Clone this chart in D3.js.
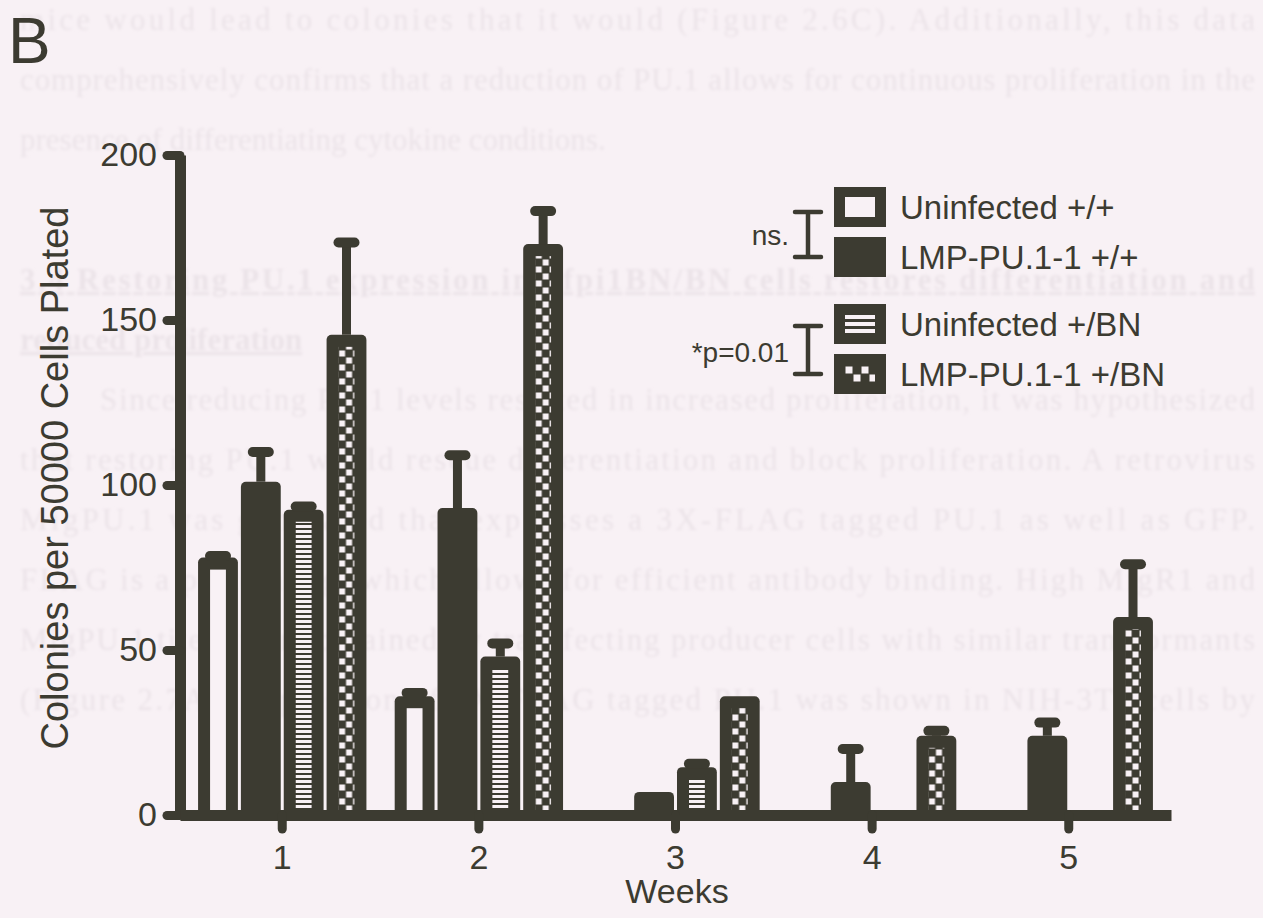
<!DOCTYPE html>
<html>
<head>
<meta charset="utf-8">
<script src="https://cdn.jsdelivr.net/npm/d3@7"></script>
<style>
    body { margin: 0; background: #f8f1f5; }
    svg { display: block; }
</style>
</head>
<body>
<svg></svg>
<script>
// values (colonies per 50000 cells plated)
const weeks = ["1", "2", "3", "4", "5"];
const seriesNames = ["Uninfected +/+", "LMP-PU.1-1 +/+", "Uninfected +/BN", "LMP-PU.1-1 +/BN"];
const seriesFills = ["open", "solid", "stripes", "checks"];
const uninfectedWT = [78, 36, 0, 0, 0];
const uninfectedWTErr = [0.5, 1, 0, 0, 0];
const lmpWT = [101, 93, 7, 10, 24];
const lmpWTErr = [9, 16, 0, 10, 4];
const uninfectedBN = [92.5, 48, 14.5, 0, 0];
const uninfectedBNErr = [1, 4, 1, 0, 0];
const lmpBN = [145.5, 173, 36, 24, 60];
const lmpBNErr = [28, 10, 0, 1.5, 16];
const yTicks = [0, 50, 100, 150, 200];

// page text behind the figure (scanned thesis page)
const pageLines = [
    "mice would lead to colonies that it would (Figure 2.6C). Additionally, this data",
    "comprehensively confirms that a reduction of PU.1 allows for continuous proliferation in the",
    "presence of differentiating cytokine conditions.",
    "3.4 Restoring PU.1 expression in Sfpi1BN/BN cells restores differentiation and",
    "reduced proliferation",
    "Since reducing PU.1 levels resulted in increased proliferation, it was hypothesized",
    "that restoring PU.1 would rescue differentiation and block proliferation. A retrovirus",
    "MigPU.1 was generated that expresses a 3X-FLAG tagged PU.1 as well as GFP.",
    "FLAG is a protein tag, which allows for efficient antibody binding. High MigR1 and",
    "MigPU.1 titers were obtained by transfecting producer cells with similar transformants",
    "(Figure 2.7A). Expression of 3X-FLAG tagged PU.1 was shown in NIH-3T3 cells by"
];

const width = 1263;
const height = 918;
const ink = "#3c3b31";
const paper = "#f8f1f5";
const font = "'Liberation Sans', Arial, sans-serif";

let svg = d3.select("svg")
    .attr("width", width)
    .attr("height", height);

let defs = svg.append("defs");
defs.append("filter").attr("id", "soft")
    .append("feGaussianBlur").attr("stdDeviation", 1.6);

let stripes = defs.append("pattern").attr("id", "stripes")
    .attr("patternUnits", "userSpaceOnUse").attr("width", 6).attr("height", 5);
stripes.append("rect").attr("width", 6).attr("height", 5).attr("fill", ink);
stripes.append("rect").attr("width", 6).attr("height", 3).attr("fill", paper);

function checker(id, s) {
    let p = defs.append("pattern").attr("id", id)
        .attr("patternUnits", "userSpaceOnUse").attr("width", 2 * s).attr("height", 2 * s);
    p.append("rect").attr("width", 2 * s).attr("height", 2 * s).attr("fill", ink);
    p.append("rect").attr("x", 0.5).attr("y", 0.5).attr("width", s - 1).attr("height", s - 1).attr("fill", paper);
    p.append("rect").attr("x", s + 0.5).attr("y", s + 0.5).attr("width", s - 1).attr("height", s - 1).attr("fill", paper);
}
checker("checks", 7);
checker("checksLegend", 8);

// faint page text, barely visible through the scan
let page = svg.append("g")
    .attr("filter", "url(#soft)")
    .attr("fill", "#ebe3e8")
    .style("font-family", "'Liberation Serif', 'Times New Roman', serif")
    .style("font-size", "31px");

pageLines.forEach((line, i) => {
    let t = page.append("text")
        .attr("x", i === 5 ? 100 : 20)
        .attr("y", 30 + i * 60 + (i >= 3 ? 80 : 0))
        .text(line);
    if (i !== 2 && i !== 4) {
        t.attr("textLength", i === 5 ? 1155 : 1235).attr("lengthAdjust", "spacing");
    }
    if (i === 3 || i === 4) {
        t.style("font-weight", "bold").style("text-decoration", "underline");
    }
});

// scales
let x0 = d3.scaleBand()
    .domain(weeks)
    .range([180, 1171])
    .paddingInner(0)
    .paddingOuter(0.02);

let x1 = d3.scaleBand()
    .domain(seriesNames)
    .range([0, x0.bandwidth()])
    .paddingInner(0.07)
    .paddingOuter(0.33);

let y = d3.scaleLinear()
    .domain([0, 200])
    .range([815, 155]);

const values = [uninfectedWT, lmpWT, uninfectedBN, lmpBN];
const errors = [uninfectedWTErr, lmpWTErr, uninfectedBNErr, lmpBNErr];

let rows = [];
weeks.forEach((w, i) => {
    seriesNames.forEach((s, j) => {
        rows.push({week: w, series: s, fill: seriesFills[j], value: values[j][i], err: errors[j][i]});
    });
});

let bw = x1.bandwidth();
let border = 12;

let bars = svg.append("g").selectAll("g")
    .data(rows.filter(d => d.value > 0))
    .enter()
    .append("g")
    .attr("transform", d => `translate(${x0(d.week) + x1(d.series)},0)`);

bars.append("rect")
    .attr("y", d => y(d.value))
    .attr("width", bw)
    .attr("height", d => y(0) - y(d.value) + 6)
    .attr("rx", 5)
    .attr("fill", ink);

bars.filter(d => d.fill !== "solid" && y(0) - y(d.value) > border)
    .append("g")
    .attr("transform", `translate(${border},0)`)
    .append("rect")
    .attr("y", d => y(d.value) + border)
    .attr("width", bw - 2 * border)
    .attr("height", d => y(0) - y(d.value) - border)
    .attr("fill", d => d.fill === "open" ? paper : `url(#${d.fill})`);

// error bars (upper only)
let errBars = bars.filter(d => d.err > 0);
errBars.append("line")
    .attr("x1", bw / 2).attr("x2", bw / 2)
    .attr("y1", d => y(d.value))
    .attr("y2", d => y(d.value + d.err))
    .attr("stroke", ink)
    .attr("stroke-width", 9);
errBars.append("rect")
    .attr("x", bw / 2 - 13)
    .attr("y", d => y(d.value + d.err) - 5)
    .attr("width", 26)
    .attr("height", 10)
    .attr("rx", 5)
    .attr("fill", ink);

// axes
let axisY = d3.axisLeft(y).tickValues(yTicks).tickSize(13).tickSizeOuter(0).tickPadding(10);
let gy = svg.append("g")
    .attr("transform", "translate(180,0)")
    .call(axisY);

let axisX = d3.axisBottom(x0).tickSize(14).tickSizeOuter(0).tickPadding(16);
let gx = svg.append("g")
    .attr("transform", `translate(0,${y(0)})`)
    .call(axisX);

[gy, gx].forEach(g => {
    g.select(".domain").attr("stroke", ink).attr("stroke-width", 11);
    g.selectAll(".tick line").attr("stroke", ink).attr("stroke-width", 9).attr("stroke-linecap", "round");
    g.selectAll(".tick text")
        .attr("fill", ink)
        .style("font-family", font)
        .style("font-size", "34px");
});

// titles
svg.append("text")
    .attr("x", 8).attr("y", 63)
    .attr("fill", ink)
    .style("font-family", font)
    .style("font-size", "64px")
    .text("B");

svg.append("text")
    .attr("transform", "translate(68,478) rotate(-90)")
    .attr("text-anchor", "middle")
    .attr("fill", ink)
    .style("font-family", font)
    .style("font-size", "38px")
    .text("Colonies per 50000 Cells Plated");

svg.append("text")
    .attr("x", 677).attr("y", 903)
    .attr("text-anchor", "middle")
    .attr("fill", ink)
    .style("font-family", font)
    .style("font-size", "34px")
    .text("Weeks");

// legend
let legend = svg.append("g").selectAll("g")
    .data(seriesNames)
    .enter()
    .append("g")
    .attr("transform", (d, i) => `translate(834,${187 + i * 50 + (i >= 2 ? 17 : 0)})`);

legend.append("rect")
    .attr("width", 52).attr("height", 40)
    .attr("fill", ink);

legend.filter((d, i) => seriesFills[i] === "open")
    .append("rect")
    .attr("x", 11).attr("y", 10).attr("width", 30).attr("height", 20)
    .attr("fill", paper);

legend.filter((d, i) => seriesFills[i] === "stripes")
    .selectAll("rect.stripe")
    .data([11, 18, 25])
    .enter()
    .append("rect")
    .attr("class", "stripe")
    .attr("x", 11).attr("y", d => d).attr("width", 30).attr("height", 4)
    .attr("fill", paper);

legend.filter((d, i) => seriesFills[i] === "checks")
    .append("g")
    .attr("transform", "translate(11,12)")
    .append("rect")
    .attr("width", 30).attr("height", 16)
    .attr("fill", "url(#checksLegend)");

legend.append("text")
    .attr("x", 66).attr("y", 32)
    .attr("fill", ink)
    .style("font-family", font)
    .style("font-size", "33px")
    .text(d => d);

// significance brackets
let brackets = [
    {label: "ns.", top: 212, bottom: 257, textY: 245},
    {label: "*p=0.01", top: 326, bottom: 374, textY: 362}
];

let br = svg.append("g").selectAll("g")
    .data(brackets)
    .enter()
    .append("g");

br.append("path")
    .attr("d", d => `M795,${d.top}H821M808,${d.top}V${d.bottom}M795,${d.bottom}H821`)
    .attr("fill", "none")
    .attr("stroke", ink)
    .attr("stroke-width", 4.5)
    .attr("stroke-linecap", "round");

br.append("text")
    .attr("x", 789).attr("y", d => d.textY)
    .attr("text-anchor", "end")
    .attr("fill", ink)
    .style("font-family", font)
    .style("font-size", "28px")
    .text(d => d.label);
</script>
</body>
</html>
